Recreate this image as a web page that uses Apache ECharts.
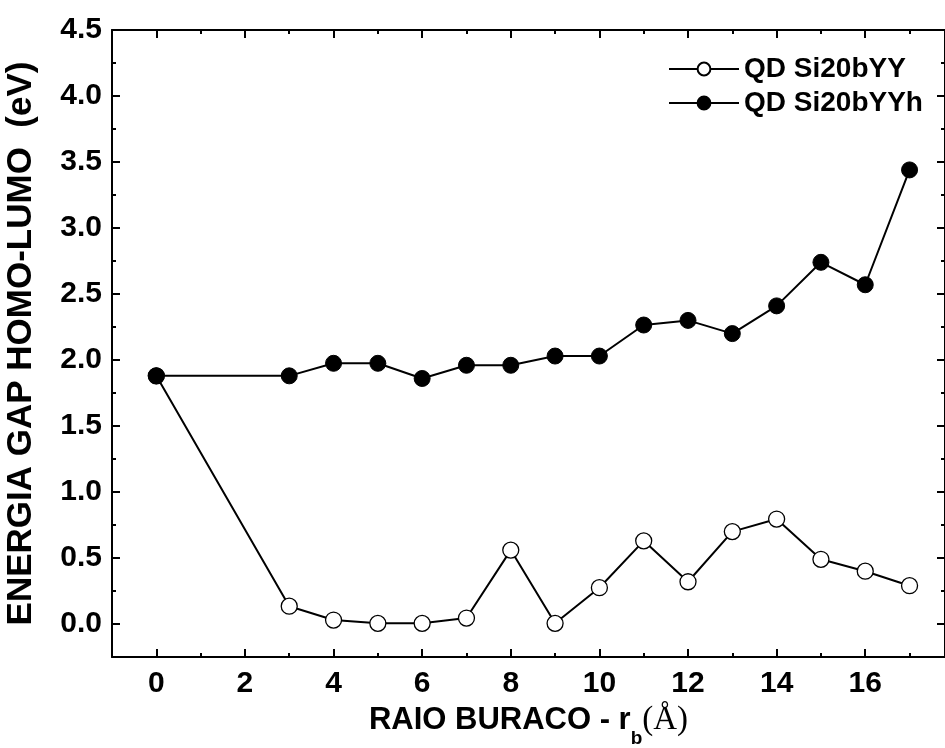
<!DOCTYPE html>
<html>
<head>
<meta charset="utf-8">
<script src="https://cdn.jsdelivr.net/npm/echarts@6/dist/echarts.min.js"></script>
<style>
  html, body { margin: 0; padding: 0; background: #fff; }
  #grafico { width: 945px; height: 748px; }
</style>
</head>
<body>
<div id="grafico"></div>
<script>
// raio do buraco (Å)
var raios = [0, 3, 4, 5, 6, 7, 8, 9, 10, 11, 12, 13, 14, 15, 16, 17];
// gap HOMO-LUMO (eV)
var gapYY  = [1.88, 0.135, 0.03, 0.005, 0.005, 0.045, 0.56, 0.005, 0.275, 0.63, 0.32, 0.70, 0.795, 0.49, 0.40, 0.29];
var gapYYh = [1.88, 1.88, 1.975, 1.975, 1.86, 1.96, 1.96, 2.03, 2.03, 2.265, 2.30, 2.20, 2.41, 2.74, 2.57, 3.44];
var nomes = ['QD Si20bYY', 'QD Si20bYYh'];

var fonte = 'Liberation Sans';
var myChart = echarts.init(document.getElementById('grafico'));

function pares(xs, ys) {
    return xs.map(function (x, i) { return [x, ys[i]]; });
}

var eixoX = {
    type: 'value', min: -1, max: 17.8, splitNumber: 9,
    axisLine: { onZero: false, lineStyle: { color: '#000', width: 2 } },
    axisTick: { inside: true, length: 8, lineStyle: { color: '#000', width: 2 } },
    minorTick: { show: true, splitNumber: 2, length: 4, lineStyle: { color: '#000', width: 2 } },
    splitLine: { show: false },
    axisLabel: {
        showMinLabel: false, showMaxLabel: false,
        color: '#000', fontFamily: fonte, fontWeight: 'bold', fontSize: 30, margin: 12,
        formatter: function (v) { return v % 2 === 0 ? String(v) : ''; }
    }
};
var eixoY = {
    type: 'value', min: -0.25, max: 4.5, splitNumber: 10,
    axisLine: { onZero: false, lineStyle: { color: '#000', width: 2 } },
    axisTick: { inside: true, length: 8, lineStyle: { color: '#000', width: 2 } },
    minorTick: { show: true, splitNumber: 2, length: 4, lineStyle: { color: '#000', width: 2 } },
    splitLine: { show: false },
    axisLabel: {
        showMinLabel: false,
        color: '#000', fontFamily: fonte, fontWeight: 'bold', fontSize: 30, margin: 10,
        formatter: function (v) { return v >= 0 ? v.toFixed(1) : ''; }
    }
};

option = {
    backgroundColor: '#fff',
    animation: false,
    grid: { left: 112, right: 0, top: 30, bottom: 91, outerBoundsMode: 'none' },
    legend: {
        orient: 'vertical', left: 663, top: 50, itemGap: 6,
        itemWidth: 70, itemHeight: 16,
        textStyle: { color: '#000', fontFamily: fonte, fontWeight: 'bold', fontSize: 28 },
        data: nomes
    },
    xAxis: [
        Object.assign({}, eixoX, {
            position: 'bottom',
            name: '{t|RAIO BURACO - r}{s|b}{a|(Å)}',
            nameLocation: 'middle', nameGap: 29,
            nameTextStyle: {
                rich: {
                    t: { color: '#000', fontFamily: fonte, fontWeight: 'bold', fontSize: 31, lineHeight: 56 },
                    s: { color: '#000', fontFamily: fonte, fontWeight: 'bold', fontSize: 19, lineHeight: 19, verticalAlign: 'bottom' },
                    a: { color: '#000', fontFamily: 'Liberation Serif', fontSize: 33, lineHeight: 56 }
                }
            }
        }),
        Object.assign({}, eixoX, { position: 'top', axisLabel: { show: false } })
    ],
    yAxis: [
        Object.assign({}, eixoY, {
            position: 'left',
            name: 'ENERGIA GAP HOMO-LUMO  (eV)',
            nameLocation: 'middle', nameGap: 73,
            nameTextStyle: { color: '#000', fontFamily: fonte, fontWeight: 'bold', fontSize: 35 }
        }),
        Object.assign({}, eixoY, { position: 'right', axisLabel: { show: false } })
    ],
    series: [
        {
            name: nomes[0], type: 'line', data: pares(raios, gapYY),
            symbol: 'circle', symbolSize: 16, showAllSymbol: true,
            lineStyle: { color: '#000', width: 2 },
            itemStyle: { color: '#fff', borderColor: '#000', borderWidth: 1.3 }
        },
        {
            name: nomes[1], type: 'line', data: pares(raios, gapYYh),
            symbol: 'circle', symbolSize: 16, showAllSymbol: true,
            lineStyle: { color: '#000', width: 2 },
            itemStyle: { color: '#000', borderColor: '#000', borderWidth: 1 }
        }
    ]
};

myChart.setOption(option);
</script>
</body>
</html>
